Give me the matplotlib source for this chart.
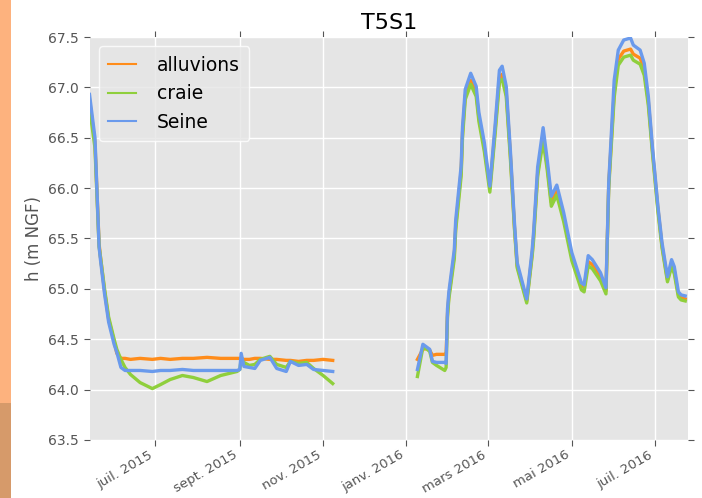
import numpy as np
import pandas as pd
import matplotlib
matplotlib.use("Agg")
import matplotlib.pyplot as plt
from matplotlib.patches import Rectangle

dates = [
    "2015-05-14", "2015-05-18", "2015-05-21", "2015-05-22", "2015-05-25", "2015-05-28",
    "2015-06-01", "2015-06-03", "2015-06-06", "2015-06-09", "2015-06-13", "2015-06-20",
    "2015-06-29", "2015-07-05", "2015-07-12", "2015-07-21", "2015-07-29", "2015-08-08",
    "2015-08-18", "2015-08-30", "2015-09-01", "2015-09-02", "2015-09-04", "2015-09-08",
    "2015-09-12", "2015-09-16", "2015-09-23", "2015-09-28", "2015-10-05", "2015-10-08",
    "2015-10-14", "2015-10-20", "2015-10-25", "2015-11-01", "2015-11-08", "2015-12-10",
    "2016-01-09", "2016-01-13", "2016-01-16", "2016-01-18", "2016-01-20", "2016-01-23",
    "2016-01-29", "2016-01-30", "2016-01-31", "2016-02-01", "2016-02-05", "2016-02-06",
    "2016-02-10", "2016-02-11", "2016-02-13", "2016-02-17", "2016-02-21", "2016-02-23",
    "2016-02-27", "2016-03-02", "2016-03-06", "2016-03-09", "2016-03-11", "2016-03-14",
    "2016-03-17", "2016-03-20", "2016-03-22", "2016-03-29", "2016-04-02", "2016-04-03",
    "2016-04-06", "2016-04-10", "2016-04-13", "2016-04-16", "2016-04-20", "2016-04-25",
    "2016-05-01", "2016-05-08", "2016-05-10", "2016-05-13", "2016-05-16", "2016-05-22",
    "2016-05-26", "2016-05-28", "2016-06-01", "2016-06-04", "2016-06-08", "2016-06-13",
    "2016-06-15", "2016-06-20", "2016-06-23", "2016-06-26", "2016-06-29", "2016-07-03",
    "2016-07-06", "2016-07-10", "2016-07-13", "2016-07-15", "2016-07-18", "2016-07-20",
    "2016-07-23",
]

alluvions = [
    66.88, 66.45, 65.45, 65.32, 64.98, 64.70,
    64.48, 64.36, 64.31, 64.31, 64.30, 64.31,
    64.30, 64.31, 64.30, 64.31, 64.31, 64.32,
    64.31, 64.31, 64.31, 64.31, 64.30, 64.30,
    64.31, 64.31, 64.30, 64.30, 64.29, 64.29,
    64.28, 64.29, 64.29, 64.30, 64.29, np.nan,
    64.30, 64.40, 64.41, 64.39, 64.34, 64.35,
    64.35, 64.35, 64.75, 64.93, 65.34, 65.62,
    66.17, 66.55, 66.92, 67.07, 66.95, 66.70,
    66.40, 66.00, 66.60, 67.10, 67.13, 66.95,
    66.34, 65.62, 65.23, 64.88, 65.35, 65.52,
    66.15, 66.52, 66.22, 65.86, 65.98, 65.71,
    65.32, 65.03, 65.01, 65.27, 65.24, 65.12,
    64.98, 66.03, 66.95, 67.28, 67.36, 67.38,
    67.33, 67.29, 67.17, 66.86, 66.38, 65.80,
    65.43, 65.09, 65.25, 65.18, 64.94, 64.91,
    64.90,
]

craie = [
    66.80, 66.40, 65.42, 65.32, 65.00, 64.72,
    64.50, 64.40, 64.30, 64.22, 64.15, 64.07,
    64.01, 64.05, 64.10, 64.14, 64.12, 64.08,
    64.14, 64.18, 64.20, 64.30, 64.27, 64.24,
    64.25, 64.30, 64.33, 64.25, 64.22, 64.28,
    64.26, 64.27, 64.21, 64.14, 64.06, np.nan,
    64.13, 64.42, 64.40, 64.38, 64.27, 64.24,
    64.19, 64.22, 64.72, 64.90, 65.30, 65.58,
    66.12, 66.50, 66.88, 67.03, 66.91, 66.66,
    66.36, 65.96, 66.56, 67.05, 67.08, 66.91,
    66.30, 65.60, 65.21, 64.86, 65.33, 65.48,
    66.12, 66.47, 66.18, 65.82, 65.93, 65.67,
    65.28, 64.99, 64.97, 65.23, 65.20, 65.08,
    64.95, 66.00, 66.90, 67.22, 67.30, 67.32,
    67.27, 67.23, 67.12, 66.82, 66.35, 65.77,
    65.41, 65.07, 65.22, 65.15, 64.92, 64.89,
    64.88,
]

seine = [
    66.93, 66.50, 65.42, 65.29, 64.95, 64.67,
    64.45, 64.37, 64.22, 64.19, 64.19, 64.19,
    64.18, 64.19, 64.19, 64.20, 64.19, 64.19,
    64.19, 64.19, 64.20, 64.36, 64.23, 64.22,
    64.21, 64.29, 64.32, 64.21, 64.18, 64.28,
    64.24, 64.25, 64.20, 64.19, 64.18, np.nan,
    64.20, 64.45, 64.42, 64.40, 64.28, 64.27,
    64.27, 64.26, 64.80, 64.97, 65.39, 65.68,
    66.22, 66.61, 66.98, 67.14, 67.01, 66.75,
    66.45, 66.02, 66.65, 67.17, 67.21, 67.01,
    66.38, 65.66, 65.26, 64.90, 65.39, 65.56,
    66.21, 66.60, 66.28, 65.92, 66.03, 65.76,
    65.36, 65.06, 65.04, 65.33, 65.29, 65.16,
    65.01, 66.05, 67.07, 67.37, 67.47, 67.49,
    67.42, 67.37, 67.24, 66.91, 66.41, 65.82,
    65.46, 65.12, 65.29, 65.22, 64.97, 64.94,
    64.93,
]

tick_dates = ["2015-07-01", "2015-09-01", "2015-11-01", "2016-01-01",
              "2016-03-01", "2016-05-01", "2016-07-01"]
tick_labels = ["juil. 2015", "sept. 2015", "nov. 2015", "janv. 2016",
               "mars 2016", "mai 2016", "juil. 2016"]

t = pd.to_datetime(dates)

fig = plt.figure(figsize=(7.02, 4.98), dpi=100)
fig.patch.set_facecolor("white")
# bande orangée à gauche de la capture
fig.patches.append(Rectangle((0, 0.19), 11 / 702, 0.81, transform=fig.transFigure,
                             facecolor="#FDB27E", edgecolor="none", zorder=0))
fig.patches.append(Rectangle((0, 0), 11 / 702, 0.19, transform=fig.transFigure,
                             facecolor="#D69A6A", edgecolor="none", zorder=0))

ax = fig.add_axes([0.1275, 0.1165, 0.8525, 0.8092])
ax.set_facecolor("#E5E5E5")
for s in ax.spines.values():
    s.set_visible(False)
ax.grid(True, color="white", linewidth=1.0)
ax.set_axisbelow(True)

ax.plot(t, alluvions, color="#FF8C1A", lw=2.4, label="alluvions")
ax.plot(t, craie, color="#8FCF3C", lw=2.4, label="craie")
ax.plot(t, seine, color="#6A9AEC", lw=2.4, label="Seine")

ax.set_xlim(pd.Timestamp("2015-05-14"), pd.Timestamp("2016-07-25"))
ax.set_ylim(63.5, 67.5)
ax.set_yticks(np.arange(63.5, 67.51, 0.5))
ax.set_xticks(pd.to_datetime(tick_dates))
ax.set_xticklabels(tick_labels, rotation=30, ha="right")
ax.tick_params(direction="out", top=True, right=True, color="#555555",
               labelcolor="#555555", labelsize=10, length=4)
ax.tick_params(axis="x", labelsize=9.5, pad=2)

ax.set_ylabel("h (m NGF)", fontsize=12, color="#555555")
ax.set_title("T5S1", fontsize=16)

leg = ax.legend(loc="upper left", fontsize=13.5, frameon=True, borderpad=0.5,
                handlelength=1.5, handletextpad=1.1, labelspacing=0.5)
leg.get_frame().set_facecolor("#E5E5E5")
leg.get_frame().set_edgecolor("white")
for line in leg.get_lines():
    line.set_linewidth(1.5)

fig.savefig("out.png", dpi=100)
